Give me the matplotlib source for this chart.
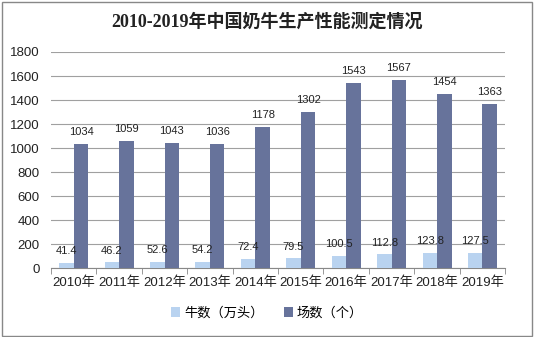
import matplotlib
matplotlib.use("Agg")
import matplotlib.pyplot as plt
import numpy as np
from matplotlib.patches import Rectangle

plt.rcParams['font.family'] = ['Liberation Sans', 'Noto Sans CJK SC', 'DejaVu Sans']

years = ['2010年', '2011年', '2012年', '2013年', '2014年', '2015年', '2016年', '2017年', '2018年', '2019年']
cows = [41.4, 46.2, 52.6, 54.2, 72.4, 79.5, 100.5, 112.8, 123.8, 127.5]
farms = [1034, 1059, 1043, 1036, 1178, 1302, 1543, 1567, 1454, 1363]
cow_labels = ['41.4', '46.2', '52.6', '54.2', '72.4', '79.5', '100.5', '112.8', '123.8', '127.5']
farm_labels = [str(v) for v in farms]

fig = plt.figure(figsize=(5.34, 3.37), dpi=100)
fig.patches.append(Rectangle((0.004, 0.004), 0.992, 0.99, transform=fig.transFigure,
                             fill=False, edgecolor='#888888', linewidth=1))
ax = fig.add_axes([0.0955, 0.2047, 0.8505, 0.641])

x = np.arange(len(years))
w = 0.32
c1 = '#B9D3F0'
c2 = '#67739B'
ax.bar(x - w / 2, cows, w, color=c1, zorder=3, label='牛数（万头）')
ax.bar(x + w / 2, farms, w, color=c2, zorder=3, label='场数（个）')

for i in range(len(years)):
    ax.annotate(cow_labels[i], (x[i] - w / 2, cows[i]), xytext=(0, 5), textcoords='offset points',
                ha='center', va='bottom', fontsize=8, color='#222222', zorder=4)
    ax.annotate(farm_labels[i], (x[i] + w / 2, farms[i]), xytext=(0, 5), textcoords='offset points',
                ha='center', va='bottom', fontsize=8, color='#222222', zorder=4)

ax.set_xlim(-0.5, len(years) - 0.5)
ax.set_ylim(0, 1800)
ax.set_yticks(np.arange(0, 1801, 200))
ax.yaxis.grid(True, color='#A0A0A0', linewidth=0.8, zorder=0)
ax.set_axisbelow(True)
for s in ['top', 'right', 'left']:
    ax.spines[s].set_visible(False)
ax.spines['bottom'].set_color('#888888')
ax.tick_params(axis='y', length=0, labelsize=9.5, pad=8, colors='#222222')
ax.set_xticks(x)
ax.set_xticklabels(years, fontsize=9.5, color='#222222')
ax.tick_params(axis='x', length=0, pad=6)
ax.set_xticks(np.arange(-0.5, len(years), 1), minor=True)
ax.tick_params(axis='x', which='minor', length=4, color='#888888')

fig.text(0.5, 0.935, '2010-2019年中国奶牛生产性能测定情况', ha='center', va='center',
         fontsize=13, fontweight='bold', color='#222222',
         family=['Liberation Serif', 'Noto Sans CJK SC', 'DejaVu Sans'])
fig.legend(loc='center', bbox_to_anchor=(0.5, 0.07), ncol=2, frameon=False, fontsize=9.5,
           handlelength=0.7, handleheight=0.7, columnspacing=1.5, handletextpad=0.3)

fig.savefig('out.png', dpi=100)
